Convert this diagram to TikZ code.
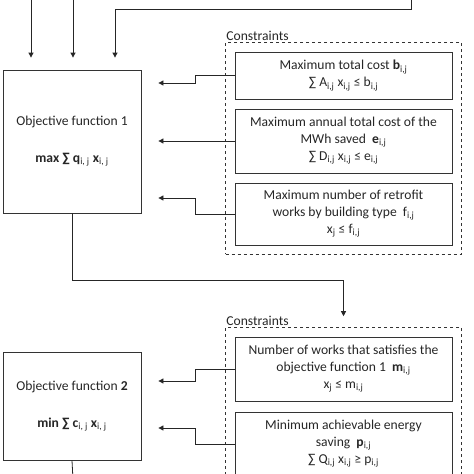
\documentclass[tikz,border=0pt]{standalone}
\usepackage{fontspec}
\setmainfont{Carlito}
\usetikzlibrary{arrows.meta,positioning,fit}

\newcommand{\idx}[1]{\textsubscript{\normalfont #1}}

\begin{document}
\begin{tikzpicture}
  [x=1pt,y=-1pt,font=\fontsize{13.6}{17}\selectfont,
   every node/.style={text=black!85},
   objbox/.style={draw=black!80,line width=.8pt,minimum width=138pt,align=center},
   consbox/.style={draw=black!80,line width=.8pt,minimum width=217pt,align=center,inner sep=1pt},
   groupbox/.style={draw=black!80,line width=.8pt,dashed,inner sep=9pt},
   link/.style={draw=black!85,line width=.8pt,-{Triangle[length=5pt,width=5pt]}}]
  \useasboundingbox (0,0) rectangle (474,474);
  \clip (0,0) rectangle (474,474);

  % objective functions
  \node [objbox,minimum height=143pt] (obj1) at (72,141.5)
    {Objective function 1\\[20pt]\textbf{max ∑ q\idx{i, j} x\idx{i, j}}};
  \node [objbox,minimum height=108pt] (obj2) at (72,406)
    {Objective function \textbf{2}\\[20pt]\textbf{min ∑ c\idx{i, j} x\idx{i, j}}};

  % constraints of function 1
  \node [consbox,minimum height=47pt] (consA) at (343.5,75.5)
    {Maximum total cost \textbf{b}\idx{i,j}\\ ∑ A\idx{i,j} x\idx{i,j} ≤ b\idx{i,j}};
  \node [consbox,minimum height=64pt] (consB) at (343.5,141)
    {Maximum annual total cost of the\\ MWh saved \ \textbf{e}\idx{i,j}\\ ∑ D\idx{i,j} x\idx{i,j} ≤ e\idx{i,j}};
  \node [consbox,minimum height=62pt] (consC) at (343.5,214)
    {Maximum number of retrofit\\ works by building type \ f\idx{i,j}\\ x\idx{j} ≤ f\idx{i,j}};
  \node [groupbox,fit=(consA)(consB)(consC)] (grp1) {};
  \node [anchor=south west,inner sep=1pt] (lbl1) at (grp1.north west) {Constraints};

  % constraints of function 2
  \node [consbox,minimum height=64pt] (consD) at (343.5,369)
    {Number of works that satisfies the\\ objective function 1 \ \textbf{m}\idx{i,j}\\ x\idx{j} ≤ m\idx{i,j}};
  \node [consbox,minimum height=64pt] (consE) at (343.5,444)
    {Minimum achievable energy\\ saving \ \textbf{p}\idx{i,j}\\ ∑ Q\idx{i,j} x\idx{i,j} ≥ p\idx{i,j}};
  \node [groupbox,fit=(consD)(consE)] (grp2) {};
  \node [anchor=south west,inner sep=1pt] (lbl2) at (grp2.north west) {Constraints};

  % inputs from above
  \coordinate (in1) at (31,-5);
  \coordinate (in2) at (73,-5);
  \coordinate (in3) at (411,-5);
  \draw [link,shorten >=12pt] (in1) -- (obj1.north -| in1);
  \draw [link,shorten >=12pt] (in2) -- (obj1.north -| in2);
  \draw [link,shorten >=12pt] (in3) -- ++(0,14) -| (obj1.north -| 115,0);

  % constraints into objective 1
  \draw [link,shorten >=17pt] (consA.west) -- ++(-39,0) |- (obj1.east |- 0,83);
  \draw [link,shorten >=17pt] (consB.west) -- (obj1.east |- consB.west);
  \draw [link,shorten >=17pt] (consC.west) -- ++(-39,0) |- (obj1.east |- 0,198);

  % objective 1 to next step
  \draw [link,shorten >=11pt] (obj1.south) -- ++(0,67) -| (grp2.north);

  % constraints into objective 2
  \draw [link,shorten >=17pt] (consD.west) -- ++(-39,0) |- (obj2.east |- 0,381);
  \draw [link,shorten >=17pt] (consE.west) -- ++(-39,0) |- (obj2.east |- 0,428);

  % output below
  \coordinate (out) at (73,480);
  \draw [draw=black!85,line width=.8pt] (obj2.south) -- (out);
\end{tikzpicture}
\end{document}
